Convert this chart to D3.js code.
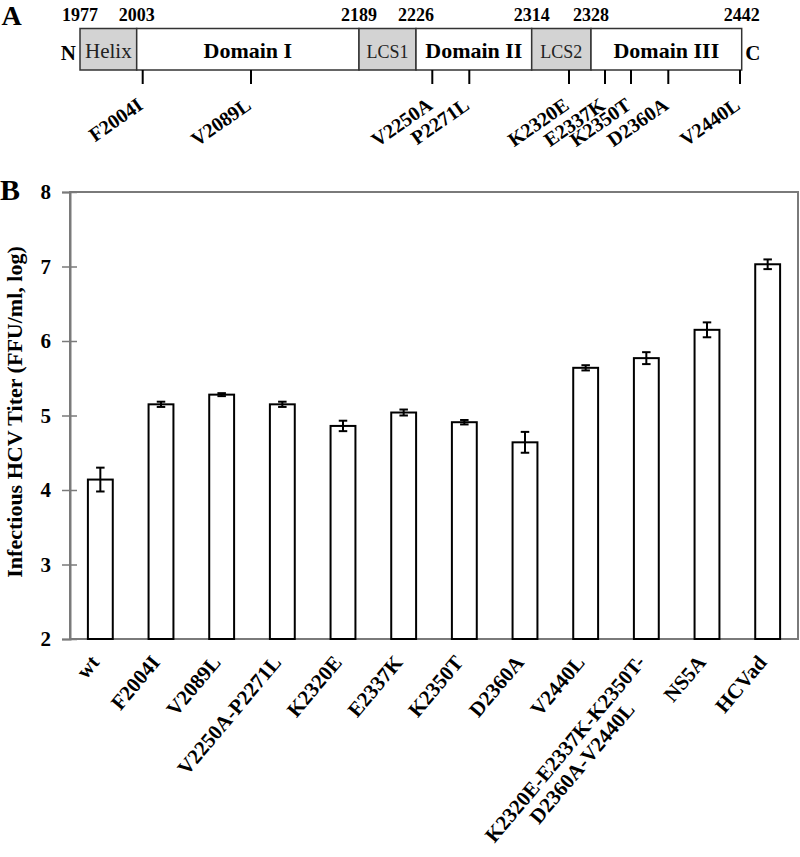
<!DOCTYPE html>
<html><head><meta charset="utf-8">
<script src="https://cdn.jsdelivr.net/npm/d3@7"></script>
<style>body{margin:0;background:#fff} svg{display:block}</style>
</head><body>
<svg id="chart" width="800" height="857"></svg>
<script>
// ---------- data ----------
const categories = ["wt","F2004I","V2089L","V2250A-P2271L","K2320E","E2337K","K2350T","D2360A","V2440L","K2320E-E2337K-K2350T-\nD2360A-V2440L","NS5A","HCVad"];
const titers = [4.14,5.15,5.28,5.15,4.86,5.04,4.91,4.64,5.64,5.77,6.15,7.03];
const titerErrors = [0.16,0.035,0.02,0.035,0.07,0.04,0.03,0.14,0.035,0.08,0.10,0.065];
const yTicks = [2,3,4,5,6,7,8];
const yTitle = "Infectious HCV Titer (FFU/ml, log)";

const regionNames = ["Helix","Domain I","LCS1","Domain II","LCS2","Domain III"];
const regionKinds = ["lcs","domain","lcs","domain","lcs","domain"];
const boundaries = [1977,2003,2189,2226,2314,2328,2442];
const mutationNames = ["F2004I","V2089L","V2250A","P2271L","K2320E","E2337K","K2350T","D2360A","V2440L"];
const mutationResidues = [2004,2089,2250,2271,2320,2337,2350,2360,2440];

// ---------- drawing ----------
const svg = d3.select("#chart");
const FONT = "'Liberation Serif','Times New Roman',Times,serif";
svg.style("font-family", FONT);

// Panel A: schematic (not to scale) residue -> x layout
const schematicLayout = [[1977,80],[2003,136.7],[2004,142.7],[2089,251],[2189,359],[2226,416],[2250,432.3],[2271,469.3],[2314,531.7],[2320,569],[2328,591],[2337,605],[2350,631],[2360,668.3],[2440,740],[2442,741.7]];
const xs = d3.scaleLinear().domain(schematicLayout.map(d=>d[0])).range(schematicLayout.map(d=>d[1]));
const boxTop = 28.5, boxBot = 70;

svg.append("text").attr("x",1.5).attr("y",24.5).attr("font-size",28).attr("font-weight","bold").text("A");

const gA = svg.append("g");
const regions = regionNames.map((n,i)=>({name:n, kind:regionKinds[i], s:boundaries[i], e:boundaries[i+1]}));
gA.selectAll("rect.region").data(regions).join("rect")
  .attr("class","region")
  .attr("x",d=>xs(d.s)).attr("y",boxTop)
  .attr("width",d=>xs(d.e)-xs(d.s)).attr("height",boxBot-boxTop)
  .attr("fill",d=>d.kind==="lcs"?"#d3d3d3":"#fff")
  .attr("stroke","#333").attr("stroke-width",1.5);
gA.selectAll("text.region").data(regions).join("text")
  .attr("class","region")
  .attr("x",d=>(xs(d.s)+xs(d.e))/2).attr("y",58)
  .attr("text-anchor","middle")
  .attr("font-weight",d=>d.kind==="domain"?"bold":"normal")
  .attr("font-size",d=>d.kind==="domain"?22:(d.name==="Helix"?21:18))
  .attr("fill",d=>d.kind==="domain"?"#000":"#222")
  .text(d=>d.name);
gA.selectAll("text.bnd").data(boundaries).join("text")
  .attr("class","bnd")
  .attr("x",d=>xs(d)).attr("y",21)
  .attr("text-anchor","middle").attr("font-size",18).attr("font-weight","bold")
  .text(d=>d);
gA.append("text").attr("x",xs(boundaries[0])-4).attr("y",60).attr("text-anchor","end")
  .attr("font-size",21).attr("font-weight","bold").text("N");
gA.append("text").attr("x",xs(boundaries[boundaries.length-1])+3.5).attr("y",60).attr("text-anchor","start")
  .attr("font-size",21).attr("font-weight","bold").text("C");
const muts = mutationNames.map((n,i)=>({name:n, r:mutationResidues[i]}));
gA.selectAll("line.mut").data(muts).join("line")
  .attr("class","mut")
  .attr("x1",d=>xs(d.r)).attr("x2",d=>xs(d.r))
  .attr("y1",boxBot).attr("y2",84)
  .attr("stroke","#000").attr("stroke-width",2);
gA.selectAll("text.mut").data(muts).join("text")
  .attr("class","mut")
  .attr("transform",d=>`translate(${xs(d.r)+1.5},108) rotate(-35)`)
  .attr("text-anchor","end").attr("font-size",20).attr("font-weight","bold")
  .text(d=>d.name);

// Panel B: bar chart
const plot = {left:70, right:798, top:192, bottom:639};
const x = d3.scaleBand().domain(categories).range([plot.left, plot.right]).padding(0);
const y = d3.scaleLinear().domain([2,8]).range([plot.bottom, plot.top]);
const barW = x.bandwidth()*0.41;
const cx = c => x(c) + x.bandwidth()/2;

svg.append("text").attr("x",0).attr("y",200).attr("font-size",30).attr("font-weight","bold").text("B");

// frame
const frameColor = "#7a7a7a";
svg.append("path")
  .attr("d",`M${plot.left},${plot.top}H${plot.right}V${plot.bottom}H${plot.left}Z`)
  .attr("fill","none").attr("stroke",frameColor).attr("stroke-width",2);

// y axis
const yAxis = svg.append("g").attr("transform",`translate(${plot.left},0)`)
  .call(d3.axisLeft(y).tickValues(yTicks).tickFormat(d3.format("d")).tickSize(8).tickPadding(11));
yAxis.select(".domain").attr("stroke",frameColor).attr("stroke-width",2);
yAxis.selectAll(".tick line").attr("x1",7).attr("x2",-8).attr("stroke",frameColor).attr("stroke-width",1.5);
yAxis.selectAll(".tick text").attr("font-size",21).attr("font-weight","bold").attr("fill","#000")
  .attr("font-family",FONT).attr("dy","0.33em");

svg.append("text")
  .attr("transform",`translate(21.5,${412})rotate(-90)`)
  .attr("text-anchor","middle").attr("font-size",22).attr("font-weight","bold")
  .text(yTitle);

const data = categories.map((c,i)=>({c, v:titers[i], e:titerErrors[i]}));
const gB = svg.append("g");
gB.selectAll("rect.bar").data(data).join("rect")
  .attr("class","bar")
  .attr("x",d=>cx(d.c)-barW/2).attr("y",d=>y(d.v))
  .attr("width",barW).attr("height",d=>y(2)-y(d.v))
  .attr("fill","#fff").attr("stroke","#000").attr("stroke-width",2);
const capW = 8.5;
const eb = gB.selectAll("g.err").data(data).join("g").attr("class","err")
  .attr("stroke","#000").attr("stroke-width",2);
eb.append("line").attr("x1",d=>cx(d.c)).attr("x2",d=>cx(d.c)).attr("y1",d=>y(d.v+d.e)).attr("y2",d=>y(d.v-d.e));
eb.append("line").attr("x1",d=>cx(d.c)-capW/2).attr("x2",d=>cx(d.c)+capW/2).attr("y1",d=>y(d.v+d.e)).attr("y2",d=>y(d.v+d.e));
eb.append("line").attr("x1",d=>cx(d.c)-capW/2).attr("x2",d=>cx(d.c)+capW/2).attr("y1",d=>y(d.v-d.e)).attr("y2",d=>y(d.v-d.e));

// x labels
const lab = gB.selectAll("g.xl").data(data).join("g").attr("class","xl")
  .attr("transform",d=>`translate(${cx(d.c)},663) rotate(-50)`);
lab.each(function(d){
  const g = d3.select(this);
  const lines = d.c.split("\n");
  const t = g.append("text").attr("font-size",21).attr("font-weight","bold");
  if(lines.length===1){
    t.attr("text-anchor","end").text(lines[0]);
  } else {
    const spans = lines.map((l,i)=>t.append("tspan").attr("x",0).attr("dy",i?"1.05em":0).text(l));
    const w = d3.max(spans, s=>s.node().getComputedTextLength());
    t.attr("text-anchor","middle");
    spans.forEach(s=>s.attr("x",-w/2));
  }
});
</script>
</body></html>
